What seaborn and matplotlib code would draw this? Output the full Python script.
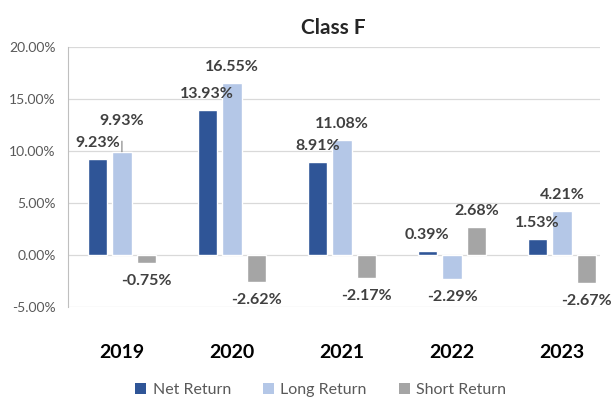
import pandas as pd
import seaborn as sns
import matplotlib.pyplot as plt
from matplotlib.patches import Patch

# Chart data
years = ["2019", "2020", "2021", "2022", "2023"]
net_return = [9.23, 13.93, 8.91, 0.39, 1.53]
long_return = [9.93, 16.55, 11.08, -2.29, 4.21]
short_return = [-0.75, -2.62, -2.17, 2.68, -2.67]
series = ["Net Return", "Long Return", "Short Return"]
colors = ["#2F5597", "#B4C7E7", "#A5A5A5"]

df = pd.DataFrame({
    "Year": years * 3,
    "Return": net_return + long_return + short_return,
    "Series": [s for s in series for _ in years],
})

sns.set_style("white")
plt.rcParams["font.family"] = ["Lato", "DejaVu Sans"]

fig = plt.figure(figsize=(6.11, 4.0), dpi=100)
ax = fig.add_axes([0.1113, 0.2325, 0.8707, 0.65])

sns.barplot(data=df, x="Year", y="Return", hue="Series", hue_order=series,
            palette=colors, width=0.67, gap=0.22, saturation=1,
            order=years, ax=ax, legend=False)

ax.set_ylim(-5, 20)
ax.set_xlim(-0.49, 4.345)
ax.set_yticks([-5, 0, 5, 10, 15, 20])
ax.set_yticklabels([f"{v:.2f}%" for v in [-5, 0, 5, 10, 15, 20]],
                   fontsize=10, color="#595959")
ax.set_xticks(range(len(years)))
ax.set_xticklabels(years, fontsize=14, fontweight="bold", color="black")
ax.tick_params(axis="y", length=0, pad=9)
ax.tick_params(axis="x", length=0, pad=27)
ax.set_xlabel("")
ax.set_ylabel("")
ax.grid(axis="y", color="#D9D9D9", linewidth=0.9)
ax.set_axisbelow(True)
for side in ["top", "right", "bottom"]:
    ax.spines[side].set_visible(False)
ax.spines["left"].set_color("#BFBFBF")

# Data labels
label_style = dict(ha="center", va="center", fontsize=11.5, fontweight="bold",
                   color="#404040", textcoords="offset points")
for container in ax.containers:
    for bar in container:
        h = bar.get_height()
        x = bar.get_x() + bar.get_width() / 2
        label = f"{h:.2f}%"
        if abs(h - 9.93) < 0.001:
            ax.annotate(label, (x, h), xytext=(0, 22),
                        arrowprops=dict(arrowstyle="-", color="#7F7F7F", lw=0.8,
                                        shrinkA=7, shrinkB=0),
                        **label_style)
        elif h >= 0:
            ax.annotate(label, (x, h), xytext=(0, 11.5), **label_style)
        else:
            ax.annotate(label, (x, h), xytext=(0, -13), **label_style)

fig.suptitle("Class F", x=0.546, y=0.955, fontsize=15, fontweight="bold")

handles = [Patch(facecolor=c, edgecolor="none") for c in colors]
fig.legend(handles, series, loc="center", bbox_to_anchor=(0.525, 0.025),
           ncol=3, frameon=False, fontsize=11.5, labelcolor="#595959",
           handlelength=0.7, handleheight=0.7, handletextpad=0.4,
           columnspacing=2.0)

plt.savefig("out.png", dpi=100)
